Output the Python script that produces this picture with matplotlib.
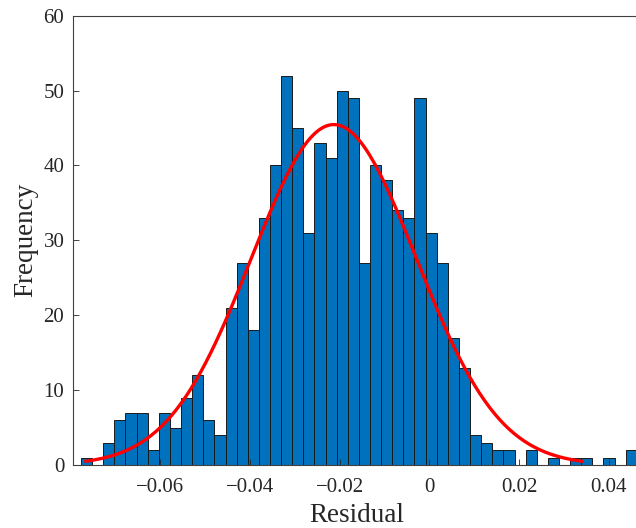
import numpy as np
import matplotlib
matplotlib.use("Agg")
import matplotlib.pyplot as plt

# Histogram counts (50 bins)
counts = [1, 0, 3, 6, 7, 7, 2, 7, 5, 9,
          12, 6, 4, 21, 27, 18, 33, 40, 52, 45,
          31, 43, 41, 50, 49, 27, 40, 38, 34, 33,
          49, 31, 27, 17, 13, 4, 3, 2, 2, 0,
          2, 0, 1, 0, 1, 1, 0, 1, 0, 2]
bin_start = -0.07769
bin_end = 0.04629
# Fitted normal parameters
fit_mu = -0.0213
fit_sigma = 0.01843

xticks = [-0.06, -0.04, -0.02, 0, 0.02, 0.04]
xtick_labels = ["\u22120.06", "\u22120.04", "\u22120.02", "0", "0.02", "0.04"]
yticks = [0, 10, 20, 30, 40, 50, 60]

plt.rcParams['font.family'] = ['Liberation Serif', 'DejaVu Serif']
plt.rcParams['mathtext.fontset'] = 'stix'

W, H = 636, 528
fig = plt.figure(figsize=(W / 100, H / 100), dpi=100)
left_px, right_px, top_px, bot_px = 72.7, 640, 15.7, 465
ax = fig.add_axes([left_px / W, 1 - bot_px / H, (right_px - left_px) / W, (bot_px - top_px) / H])

nb = len(counts)
edges = np.linspace(bin_start, bin_end, nb + 1)
width = edges[1] - edges[0]
ax.bar(edges[:-1], counts, width=width, align='edge', color='#0072BD',
       edgecolor='#1a1a1a', linewidth=0.7, zorder=1)

n_total = sum(counts)
xs = np.linspace(fit_mu - 3 * fit_sigma, fit_mu + 3 * fit_sigma, 200)
ys = n_total * width / (fit_sigma * np.sqrt(2 * np.pi)) * np.exp(-0.5 * ((xs - fit_mu) / fit_sigma) ** 2)
ax.plot(xs, ys, color='#FF0000', linewidth=2.4, zorder=3)

px_per_unit = 4483.0
x0 = -(429.3 - left_px) / px_per_unit
x1 = (right_px - 429.3) / px_per_unit
ax.set_xlim(x0, x1)
ax.set_ylim(0, 60)
ax.set_xticks(xticks)
ax.set_xticklabels(xtick_labels)
ax.set_yticks(yticks)

tc = '#262626'
for s in ax.spines.values():
    s.set_color('#404040')
    s.set_linewidth(0.8)
ax.tick_params(axis='both', direction='in', length=4, width=0.6, colors=tc,
               labelsize=15, labelcolor=tc)
ax.tick_params(axis='x', pad=9)
ax.tick_params(axis='y', pad=6)

ax.set_xlabel('Residual', fontsize=19.5, color=tc, labelpad=5)
ax.set_ylabel('Frequency', fontsize=19.5, color=tc, labelpad=4)

fig.savefig('out.png', dpi=100)
